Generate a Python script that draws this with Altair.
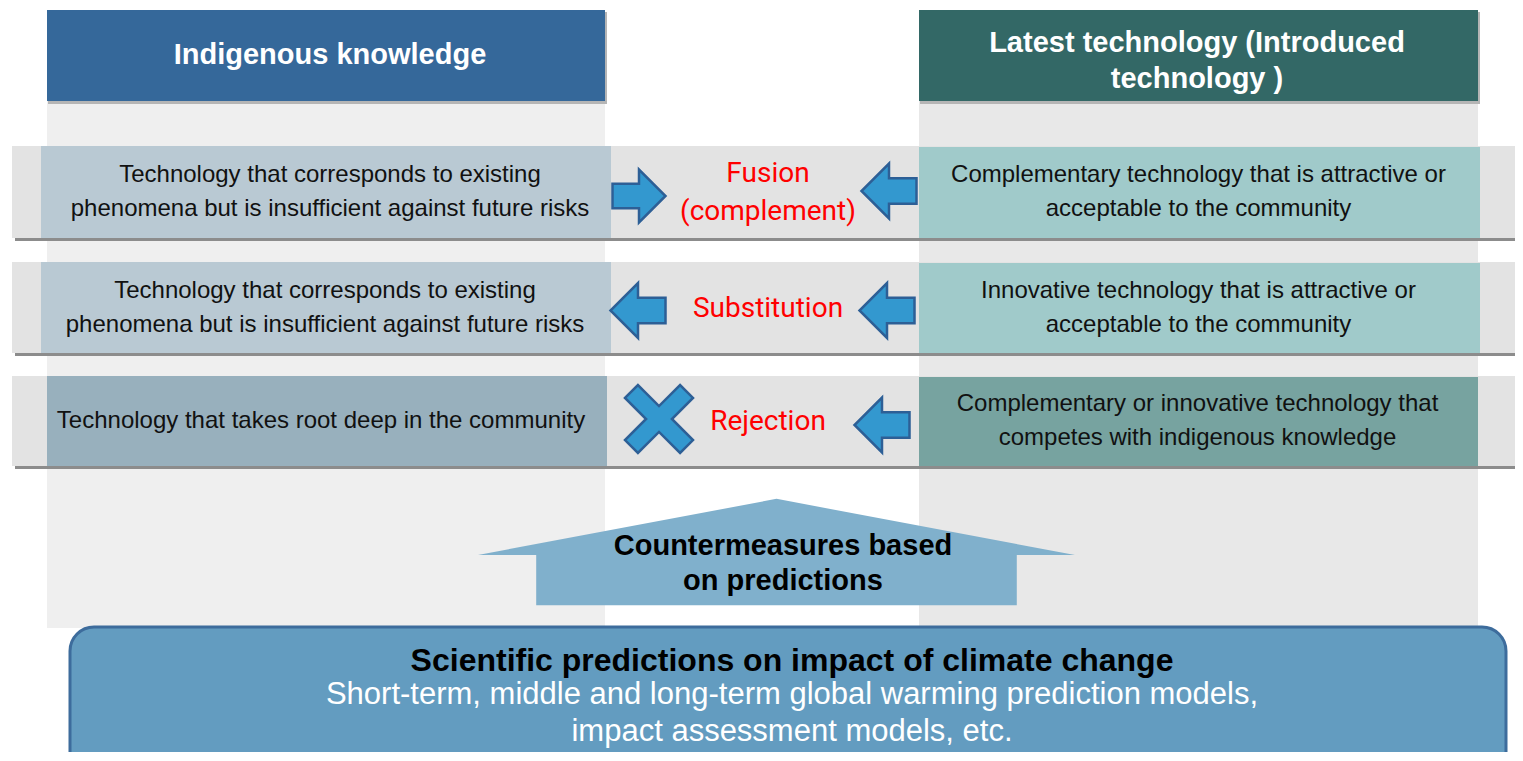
import altair as alt
import pandas as pd

# ---------------- content ----------------
headers = ["Indigenous knowledge", "Latest technology (Introduced\ntechnology )"]
left_texts = [
    "Technology that corresponds to existing\nphenomena but is insufficient against future risks",
    "Technology that corresponds to existing\nphenomena but is insufficient against future risks",
    "Technology that takes root deep in the community",
]
right_texts = [
    "Complementary technology that is attractive or\nacceptable to the community",
    "Innovative technology that is attractive or\nacceptable to the community",
    "Complementary or innovative technology that\ncompetes with indigenous knowledge",
]
relations = ["Fusion\n(complement)", "Substitution", "Rejection"]
left_symbols = ["arrow_right", "arrow_left", "cross"]
right_symbols = ["arrow_left", "arrow_left", "arrow_left"]
upward_label = "Countermeasures based\non predictions"
base_title = "Scientific predictions on impact of climate change"
base_body = "Short-term, middle and long-term global warming prediction models,\nimpact assessment models, etc."

# ---------------- layout (pixel frame of the page) ----------------
W, H = 1507, 744
X0, Y0 = 8, 8
LEFT_COL = (47, 605)
RIGHT_COL = (919, 1478)
COL_TOP, COL_BOTTOM = 10, 628
HEADER_BOTTOM = 101
ROW_TOP = [146, 262, 376]
ROW_BOTTOM = [238, 353, 466]
STRIP_X = (12, 1519)
LEFT_BOX = [(41, 611), (41, 611), (47, 607)]
RIGHT_BOX = [(919, 1480), (919, 1480), (919, 1478)]
LEFT_BOX_FILL = ["#b9c9d3", "#b9c9d3", "#98b0bd"]
RIGHT_BOX_FILL = ["#a0caca", "#a0caca", "#77a3a0"]
SYM_LEFT_X = {"arrow_right": 639, "arrow_left": 638, "cross": 659}
SYM_RIGHT_X = [889, 887, 882]
SYM_DY_LEFT = [4, 3, -2]
SYM_DY_RIGHT = [-1, 3, 4]
REL_X = 768

SHAPES = {
    "arrow_right": "M -1 -0.46 L 0 -0.46 L 0 -1 L 1 0 L 0 1 L 0 0.46 L -1 0.46 Z",
    "arrow_left": "M 1 -0.46 L 0 -0.46 L 0 -1 L -1 0 L 0 1 L 0 0.46 L 1 0.46 Z",
    "cross": "M -1 -0.62 L -0.62 -1 L 0 -0.38 L 0.62 -1 L 1 -0.62 L 0.38 0 L 1 0.62 L 0.62 1 L 0 0.38 L -0.62 1 L -1 0.62 L -0.38 0 Z",
    "up": "M 0 -0.178 L 1 0.01 L 0.805 0.01 L 0.805 0.178 L -0.805 0.178 L -0.805 0.01 L -1 0.01 Z",
}
SYM_SIZE = {"arrow_right": 53, "arrow_left": 55, "cross": 68}

xs = alt.Scale(domain=[X0, X0 + W], nice=False, zero=False)
ys = alt.Scale(domain=[Y0, Y0 + H], reverse=True, nice=False, zero=False)
X = lambda: alt.X("x:Q", scale=xs, axis=None)
Y = lambda: alt.Y("y:Q", scale=ys, axis=None)


def first_line_y(center, text, lh):
    n = text.count("\n") + 1
    return center - (n - 1) * lh / 2


# ---------------- rectangles ----------------
rects = []
def add(x, x2, y, y2, fill):
    rects.append(dict(x=x, x2=x2, y=y, y2=y2, fill=fill))

add(LEFT_COL[0], LEFT_COL[1], COL_TOP, COL_BOTTOM, "#efefef")
add(RIGHT_COL[0], RIGHT_COL[1], COL_TOP, COL_BOTTOM, "#e8e8e8")
add(LEFT_COL[0] + 1, LEFT_COL[1] + 2, COL_TOP + 2, HEADER_BOTTOM + 3, "#b5b5b5")
add(RIGHT_COL[0] + 1, RIGHT_COL[1] + 2, COL_TOP + 2, HEADER_BOTTOM + 3, "#b5b5b5")
add(LEFT_COL[0], LEFT_COL[1], COL_TOP, HEADER_BOTTOM, "#35689a")
add(RIGHT_COL[0], RIGHT_COL[1], COL_TOP, HEADER_BOTTOM, "#336866")
for i in range(3):
    add(STRIP_X[0] + 3, STRIP_X[1] + 3, ROW_TOP[i] + 4, ROW_BOTTOM[i] + 3, "#8c8c8c")
    add(STRIP_X[0], STRIP_X[1], ROW_TOP[i], ROW_BOTTOM[i], "#e3e3e3")
    add(LEFT_BOX[i][0], LEFT_BOX[i][1], ROW_TOP[i], ROW_BOTTOM[i], LEFT_BOX_FILL[i])
    add(RIGHT_BOX[i][0], RIGHT_BOX[i][1], ROW_TOP[i] + 1, ROW_BOTTOM[i], RIGHT_BOX_FILL[i])
rect_df = pd.DataFrame(rects)

rect_layer = alt.Chart(rect_df).mark_rect(clip=True).encode(
    x=X(), x2="x2:Q", y=Y(), y2="y2:Q",
    color=alt.Color("fill:N", scale=None),
)

# ---------------- symbols ----------------
syms = []
for i in range(3):
    yc = (ROW_TOP[i] + ROW_BOTTOM[i]) / 2
    ls = left_symbols[i]
    syms.append(dict(x=SYM_LEFT_X[ls], y=yc + SYM_DY_LEFT[i], shape=SHAPES[ls], size=SYM_SIZE[ls] ** 2))
    rs = right_symbols[i]
    syms.append(dict(x=SYM_RIGHT_X[i], y=yc + SYM_DY_RIGHT[i], shape=SHAPES[rs], size=SYM_SIZE[rs] ** 2))
sym_df = pd.DataFrame(syms)
sym_layer = alt.Chart(sym_df).mark_point(
    filled=True, fill="#3398cf", stroke="#2d5f96", strokeWidth=2.5, opacity=1, fillOpacity=1, clip=True
).encode(
    x=X(), y=Y(),
    shape=alt.Shape("shape:N", scale=None),
    size=alt.Size("size:Q", scale=None),
)

up_df = pd.DataFrame([dict(x=776.5, y=552, shape=SHAPES["up"], size=597 ** 2)])
up_layer = alt.Chart(up_df).mark_point(
    filled=True, fill="#80b0cc", strokeWidth=0, opacity=1, fillOpacity=1, clip=True
).encode(
    x=X(), y=Y(),
    shape=alt.Shape("shape:N", scale=None),
    size=alt.Size("size:Q", scale=None),
)
UP_LH = 35
up_text = alt.Chart(pd.DataFrame([dict(x=783, y=first_line_y(563, upward_label, UP_LH), t=upward_label)])).mark_text(
    font="Liberation Sans", fontWeight="bold", fontSize=29, color="#000000",
    lineBreak="\n", lineHeight=UP_LH, baseline="middle", align="center"
).encode(x=X(), y=Y(), text="t:N")

# ---------------- base box ----------------
base_df = pd.DataFrame([dict(x=70, x2=1506, y=627, y2=790)])
base_layer = alt.Chart(base_df).mark_rect(
    cornerRadius=24, fill="#639cc0", stroke="#3d6c9c", strokeWidth=3, clip=True
).encode(x=X(), x2="x2:Q", y=Y(), y2="y2:Q")
base_title_layer = alt.Chart(pd.DataFrame([dict(x=792, y=661, t=base_title)])).mark_text(
    font="Liberation Sans", fontWeight="bold", fontSize=32, color="#000000",
    baseline="middle", align="center"
).encode(x=X(), y=Y(), text="t:N")
BODY_LH = 37
base_body_layer = alt.Chart(pd.DataFrame([dict(x=792, y=first_line_y(713.5, base_body, BODY_LH), t=base_body)])).mark_text(
    font="Liberation Sans", fontSize=31, color="#ffffff",
    lineBreak="\n", lineHeight=BODY_LH, baseline="middle", align="center"
).encode(x=X(), y=Y(), text="t:N")

# ---------------- texts ----------------
HDR_LH = 36
hdr_df = pd.DataFrame([
    dict(x=330, y=first_line_y(55, headers[0], HDR_LH), t=headers[0]),
    dict(x=1197, y=first_line_y(61, headers[1], HDR_LH), t=headers[1]),
])
hdr_layer = alt.Chart(hdr_df).mark_text(
    font="Liberation Sans", fontWeight="bold", fontSize=29, color="#ffffff",
    lineBreak="\n", lineHeight=HDR_LH, baseline="middle", align="center"
).encode(x=X(), y=Y(), text="t:N")

BOX_LH = 34
box_rows = []
for i in range(3):
    yc = (ROW_TOP[i] + ROW_BOTTOM[i]) / 2
    box_rows.append(dict(x=(LEFT_BOX[i][0] + LEFT_BOX[i][1]) / 2 + (4 - 5 * i),
                         y=first_line_y(yc, left_texts[i], BOX_LH), t=left_texts[i]))
    box_rows.append(dict(x=(RIGHT_BOX[i][0] + RIGHT_BOX[i][1]) / 2 - 1,
                         y=first_line_y(yc, right_texts[i], BOX_LH), t=right_texts[i]))
box_df = pd.DataFrame(box_rows)
box_text = alt.Chart(box_df).mark_text(
    font="Liberation Sans", fontSize=24, color="#111111",
    lineBreak="\n", lineHeight=BOX_LH, baseline="middle", align="center"
).encode(x=X(), y=Y(), text="t:N")

REL_LH = 38
rel_df = pd.DataFrame([
    dict(x=REL_X, y=first_line_y((ROW_TOP[i] + ROW_BOTTOM[i]) / 2 + 1, relations[i], REL_LH), t=relations[i])
    for i in range(3)
])
rel_text = alt.Chart(rel_df).mark_text(
    font="Roboto", fontWeight=400, fontSize=28, color="#ff0000",
    lineBreak="\n", lineHeight=REL_LH, baseline="middle", align="center"
).encode(x=X(), y=Y(), text="t:N")

chart = alt.layer(
    rect_layer, hdr_layer, box_text, rel_text, sym_layer,
    up_layer, up_text, base_layer, base_title_layer, base_body_layer
).properties(
    width=W, height=H, padding=0, autosize=alt.AutoSizeParams(type="none")
).configure_view(strokeWidth=0)

chart.save("out.html", embed_options={"renderer": "svg", "actions": False})
